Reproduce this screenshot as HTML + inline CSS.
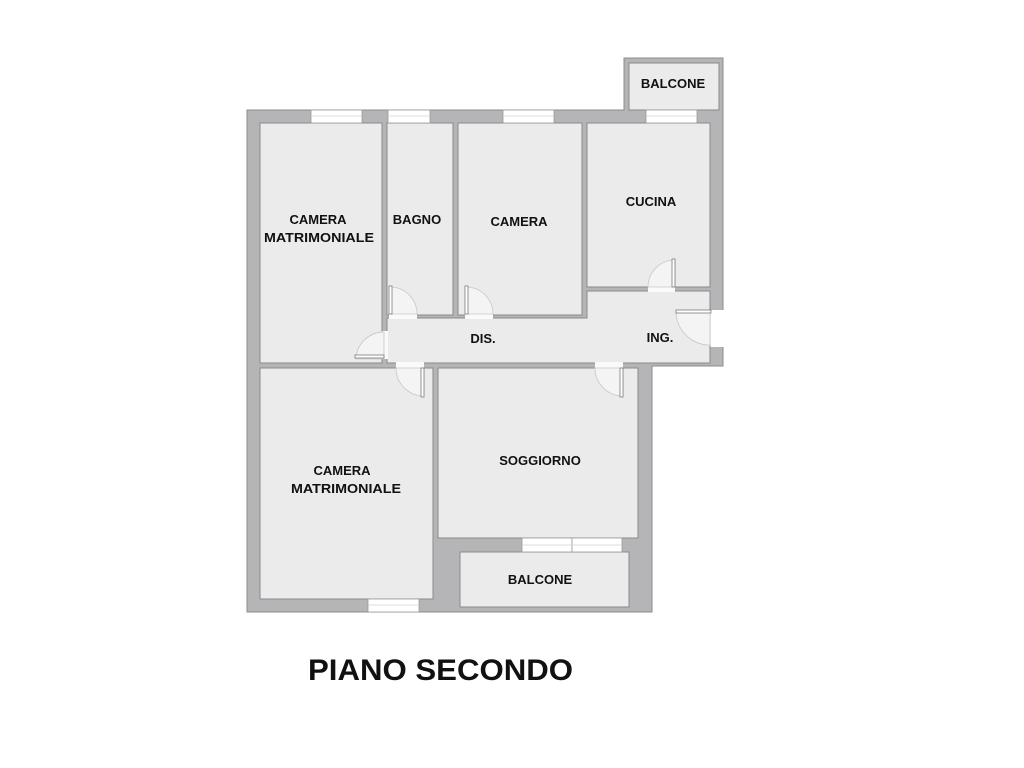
<!DOCTYPE html>
<html><head><meta charset="utf-8"><style>
html,body{margin:0;padding:0;background:#fff;}
svg{display:block;}
text{font-family:"Liberation Sans",sans-serif;font-weight:bold;fill:#111;}
</style></head><body>
<svg width="1024" height="768" viewBox="0 0 1024 768" xmlns="http://www.w3.org/2000/svg">
<polygon points="247,110 624,110 624,58 723,58 723,366 652,366 652,612 247,612" fill="#b5b5b7" stroke="#8c8c8c" stroke-width="1"/>
<rect x="710" y="310" width="14" height="37" fill="#fff"/>
<g fill="#ebebeb" stroke="#8a8a8a" stroke-width="1">
<rect x="629" y="63" width="90" height="47"/>
<rect x="260" y="123" width="122" height="240"/>
<rect x="387" y="123" width="66" height="192"/>
<rect x="458" y="123" width="124" height="192"/>
<rect x="587" y="123" width="123" height="164"/>
<polygon points="387,318 587,318 587,291 710,291 710,363 387,363"/>
<rect x="260" y="368" width="173" height="231"/>
<rect x="438" y="368" width="200" height="170"/>
<rect x="460" y="552" width="169" height="55"/>
</g>
<g fill="#fff" stroke="#9a9a9a" stroke-width="0.8">
<rect x="311" y="110" width="51" height="13"/>
<rect x="388" y="110" width="42" height="13"/>
<rect x="503" y="110" width="51" height="13"/>
<rect x="646" y="110" width="51" height="13"/>
<rect x="368" y="599" width="51" height="13"/>
<rect x="522" y="538" width="50" height="14"/>
<rect x="572" y="538" width="50" height="14"/>
</g>
<g stroke="#d0d0d0" stroke-width="0.8">
<line x1="311" y1="116" x2="362" y2="116"/><line x1="388" y1="116" x2="430" y2="116"/>
<line x1="503" y1="116" x2="554" y2="116"/><line x1="646" y1="116" x2="697" y2="116"/>
<line x1="368" y1="605" x2="419" y2="605"/><line x1="522" y1="545" x2="622" y2="545"/>
</g>
<g fill="#fafafa">
<rect x="389" y="313" width="28" height="6"/>
<rect x="465" y="313" width="28" height="6"/>
<rect x="648" y="286" width="27" height="6"/>
<rect x="382" y="331" width="6" height="28"/>
<rect x="396" y="362" width="28" height="7"/>
<rect x="595" y="362" width="28" height="7"/>
</g>
<g fill="#f4f4f4" stroke="#c8c8c8" stroke-width="0.8">
<path d="M390,287 A27,27 0 0 1 417,314 L390,314 Z"/>
<path d="M466,287 A27,27 0 0 1 493,314 L466,314 Z"/>
<path d="M675,260 A27,27 0 0 0 648,287 L675,287 Z"/>
<path d="M384,332 A28,28 0 0 0 356,359 L384,359 Z"/>
<path d="M424,396 A28,28 0 0 1 396,368 L424,368 Z"/>
<path d="M623,396 A28,28 0 0 1 595,368 L623,368 Z"/>
<path d="M676,311 A34,34 0 0 0 710,345 L710,311 Z"/>
</g>
<g fill="#fff" stroke="#7a7a7a" stroke-width="0.8">
<rect x="389" y="286" width="3" height="28"/>
<rect x="465" y="286" width="3" height="28"/>
<rect x="672" y="259" width="3" height="28"/>
<rect x="355" y="355" width="29" height="3"/>
<rect x="421" y="368" width="3" height="29"/>
<rect x="620" y="368" width="3" height="29"/>
<rect x="676" y="310" width="35" height="3"/>
</g>
<g font-size="13" text-anchor="middle">
<text x="673" y="88">BALCONE</text>
<text x="318" y="224">CAMERA</text>
<text x="319" y="242" textLength="110" lengthAdjust="spacingAndGlyphs">MATRIMONIALE</text>
<text x="417" y="224">BAGNO</text>
<text x="519" y="226">CAMERA</text>
<text x="651" y="206">CUCINA</text>
<text x="483" y="343">DIS.</text>
<text x="660" y="342">ING.</text>
<text x="342" y="475">CAMERA</text>
<text x="346" y="493" textLength="110" lengthAdjust="spacingAndGlyphs">MATRIMONIALE</text>
<text x="540" y="465">SOGGIORNO</text>
<text x="540" y="584">BALCONE</text>
</g>
<text x="308" y="680" font-size="30" textLength="265" lengthAdjust="spacingAndGlyphs">PIANO SECONDO</text>
</svg>
</body></html>
